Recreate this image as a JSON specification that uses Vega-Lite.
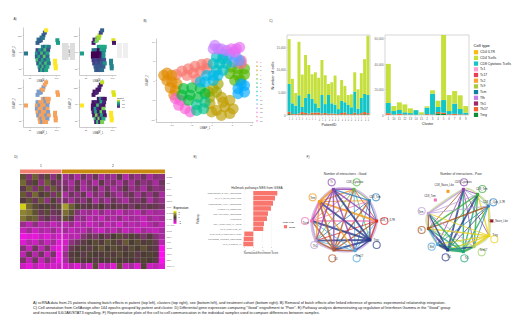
{"$schema":"https://vega.github.io/schema/vega-lite/v6.json","width":520,"height":325,"padding":0,"autosize":{"type":"none"},"background":"white",
"config":{"view":{"stroke":null},"font":"Liberation Sans","axis":{"grid":false,"labelFontSize":2.4,"titleFontSize":2.6,"tickSize":1,"tickWidth":0.4,"domainWidth":0.5,"domainColor":"#999999","tickColor":"#999999","labelColor":"#666666","titleColor":"#444444","titleFontWeight":"normal","labelPadding":0.8,"titlePadding":1}},
"datasets":{
"umapA":[{"x":44,"y":97,"a":0.3,"b":0.05,"s":1,"d":0.05},{"x":50,"y":103,"a":0.25,"b":0.7,"s":1,"d":0.1},{"x":56,"y":113,"a":0.35,"b":0.85,"s":0,"d":0.05},{"x":62,"y":120,"a":0.25,"b":0.9,"s":1,"d":0.1},{"x":66,"y":128,"a":0.3,"b":0.2,"s":0,"d":0.05},{"x":70,"y":135,"a":1,"b":0.3,"s":0,"d":0.9},{"x":47,"y":107,"a":0.35,"b":0.1,"s":1,"d":0.05},{"x":54,"y":105,"a":0.3,"b":0.8,"s":1,"d":0.1},{"x":60,"y":112,"a":0.4,"b":0.85,"s":0,"d":0.05},
{"x":60,"y":85,"a":0.5,"b":0.5,"s":0,"d":0.05},{"x":66,"y":85,"a":0.3,"b":0.6,"s":1,"d":0.5},{"x":72,"y":85,"a":0.6,"b":0.6,"s":0,"d":0.1},{"x":78,"y":85,"a":0.4,"b":0.6,"s":0,"d":0.05},
{"x":44,"y":75,"a":0.2,"b":0.4,"s":1,"d":0.05},{"x":52,"y":75,"a":0.55,"b":0.35,"s":0,"d":0.1},{"x":60,"y":75,"a":0.35,"b":0.02,"s":0,"d":0.05},{"x":68,"y":75,"a":0.7,"b":0.6,"s":1,"d":0.6},{"x":76,"y":75,"a":0.25,"b":0.55,"s":0,"d":0.1},
{"x":42,"y":65,"a":0.55,"b":0.0,"s":0,"d":0.05},{"x":50,"y":65,"a":0.25,"b":0.0,"s":1,"d":0.05},{"x":58,"y":65,"a":0.7,"b":0.0,"s":0,"d":0.7},{"x":66,"y":65,"a":0.3,"b":0.02,"s":0,"d":0.1},{"x":74,"y":65,"a":0.6,"b":0.5,"s":1,"d":0.05},
{"x":42,"y":55,"a":0.3,"b":0.0,"s":1,"d":0.05},{"x":50,"y":55,"a":0.6,"b":0.0,"s":0,"d":0.5},{"x":58,"y":55,"a":0.25,"b":0.0,"s":0,"d":0.1},{"x":66,"y":55,"a":0.75,"b":0.05,"s":1,"d":0.05},{"x":74,"y":55,"a":0.35,"b":0.5,"s":0,"d":0.8},
{"x":44,"y":45,"a":0.7,"b":0.15,"s":0,"d":0.1},{"x":52,"y":45,"a":0.25,"b":0.2,"s":1,"d":0.6},{"x":60,"y":45,"a":0.6,"b":0.15,"s":0,"d":0.05},{"x":68,"y":45,"a":0.3,"b":0.2,"s":0,"d":0.75},{"x":76,"y":45,"a":0.55,"b":0.25,"s":1,"d":0.1},
{"x":46,"y":35,"a":0.3,"b":0.2,"s":1,"d":0.05},{"x":54,"y":35,"a":0.65,"b":0.25,"s":0,"d":0.8},{"x":62,"y":35,"a":0.3,"b":0.2,"s":0,"d":0.1},{"x":70,"y":35,"a":0.7,"b":0.3,"s":1,"d":0.6},{"x":78,"y":35,"a":0.4,"b":0.5,"s":0,"d":0.05},
{"x":50,"y":25,"a":0.6,"b":0.3,"s":0,"d":0.7},{"x":56,"y":25,"a":0.3,"b":0.25,"s":1,"d":0.1},{"x":62,"y":25,"a":0.7,"b":0.3,"s":0,"d":0.8},{"x":68,"y":25,"a":0.35,"b":0.25,"s":0,"d":0.1},{"x":74,"y":25,"a":0.6,"b":0.3,"s":1,"d":0.6},
{"x":52,"y":15,"a":0.3,"b":0.3,"s":0,"d":0.1},{"x":58,"y":15,"a":0.65,"b":0.25,"s":1,"d":0.7},{"x":64,"y":15,"a":0.35,"b":0.3,"s":0,"d":0.1},{"x":70,"y":15,"a":0.6,"b":0.35,"s":0,"d":0.8},
{"x":104,"y":105,"a":0.55,"b":0.95,"s":0,"d":0.95},{"x":106,"y":97,"a":0.55,"b":0.05,"s":0,"d":0.95},
{"x":97,"y":43,"a":1,"b":0.45,"s":0,"d":1},{"x":97,"y":35,"a":1,"b":0.45,"s":0,"d":1},{"x":99,"y":27,"a":1,"b":0.45,"s":0,"d":1},{"x":99,"y":20,"a":1,"b":0.45,"s":0,"d":1},
{"x":9,"y":65,"a":0.4,"b":0.55,"s":0,"d":1}],
"umapB":[{"c":"1","x":-8.7,"y":1.5},{"c":"1","x":-7.3,"y":2.4},{"c":"1","x":-5.7,"y":3},{"c":"1","x":-4.1,"y":3.6},{"c":"1","x":-2.4,"y":4.1},{"c":"1","x":-1.1,"y":4.3},{"c":"1","x":-6.1,"y":1.3},{"c":"1","x":-4.5,"y":1.9},{"c":"1","x":-2.8,"y":2.4},{"c":"1","x":-1.2,"y":3},{"c":"1","x":-3.7,"y":0.2},
{"c":"2","x":-11.8,"y":1.3},{"c":"2","x":-11,"y":1.9},{"c":"2","x":-9.8,"y":1.3},{"c":"2","x":-11,"y":0},{"c":"2","x":-9.8,"y":-0.4},{"c":"2","x":-10.2,"y":-1.9},{"c":"2","x":-8.9,"y":-2.6},{"c":"2","x":-8.5,"y":-0.9},{"c":"2","x":-9.3,"y":-3.8},
{"c":"15","x":-8.9,"y":-4.7},{"c":"15","x":-7.7,"y":-5.1},{"c":"15","x":-8.1,"y":-6.4},{"c":"15","x":-6.5,"y":-7.3},{"c":"15","x":-5.3,"y":-8.1},
{"c":"3","x":-0.4,"y":-6},{"c":"3","x":2.4,"y":-4.3},{"c":"3","x":4.5,"y":-5.1},{"c":"3","x":1.2,"y":-7.7},{"c":"3","x":3.3,"y":-6.8},{"c":"3","x":5.3,"y":-7.3},{"c":"3","x":0,"y":-8.1},{"c":"3","x":2.4,"y":-9},{"c":"3","x":4.5,"y":-8.5},{"c":"3","x":2.8,"y":-5.6},
{"c":"4","x":-0.8,"y":-3},{"c":"4","x":0.4,"y":-2.1},{"c":"4","x":1.6,"y":-0.9},{"c":"4","x":1.2,"y":-3},{"c":"4","x":-0.4,"y":-4.3},
{"c":"5","x":4.9,"y":3.4},{"c":"5","x":6.5,"y":3},{"c":"5","x":8.1,"y":3},{"c":"5","x":4.5,"y":1.7},{"c":"5","x":6.5,"y":1.3},{"c":"5","x":8.1,"y":1.5},{"c":"5","x":5.7,"y":0},{"c":"5","x":7.1,"y":0},
{"c":"6","x":-6.9,"y":-2.1},{"c":"6","x":-4.9,"y":-1.9},{"c":"6","x":-2.8,"y":-2.1},{"c":"6","x":-7.3,"y":-3.8},{"c":"6","x":-5.3,"y":-3.8},{"c":"6","x":-3.3,"y":-4.3},{"c":"6","x":-1.6,"y":-3.4},{"c":"6","x":-5.7,"y":-5.1},
{"c":"7","x":-3.7,"y":-6.2},{"c":"7","x":-1.6,"y":-5.6},{"c":"7","x":-3.7,"y":-7.7},{"c":"7","x":-2,"y":-7.3},
{"c":"14","x":7.3,"y":4.3},{"c":"14","x":7.3,"y":5.1},
{"c":"11","x":2.8,"y":6.8},{"c":"11","x":4.5,"y":6.8},{"c":"11","x":6.1,"y":6},{"c":"11","x":3.7,"y":5.6},{"c":"11","x":5.3,"y":4.7},{"c":"11","x":6.9,"y":5.1},
{"c":"8","x":1.2,"y":6},{"c":"8","x":2.7,"y":5.6},{"c":"8","x":0.4,"y":4.3},{"c":"8","x":2,"y":4.3},{"c":"8","x":3.7,"y":4.3},{"c":"8","x":1.2,"y":2.6},{"c":"8","x":2.8,"y":2.6},
{"c":"9","x":-2.8,"y":-0.4},{"c":"9","x":-1.2,"y":1.3},{"c":"9","x":0.4,"y":1.3},{"c":"9","x":-1.6,"y":-0.4},{"c":"9","x":0.4,"y":0},{"c":"9","x":1.6,"y":1.3},
{"c":"10","x":6.5,"y":-2.1},{"c":"10","x":8.1,"y":-1.3},{"c":"10","x":6.5,"y":-3.4},{"c":"10","x":8.1,"y":-3},{"c":"10","x":7.3,"y":-0.9},
{"c":"12","x":0.8,"y":9},{"c":"12","x":1.6,"y":8.1},{"c":"12","x":0.4,"y":8.1},{"c":"12","x":2.4,"y":8.1},{"c":"12","x":3.7,"y":7.7},
{"c":"13","x":4.9,"y":8.1},{"c":"13","x":6.1,"y":8.1},{"c":"13","x":6.9,"y":8.5},{"c":"13","x":5.7,"y":7.3}],
"barsP":[{"p":"P1","k":"Treg","n":200},{"p":"P1","k":"Th17","n":500},{"p":"P1","k":"CD8 Cytotoxic Tcells","n":6140},{"p":"P1","k":"CD4 Tcells","n":9860},
{"p":"P2","k":"Treg","n":80},{"p":"P2","k":"Th17","n":150},{"p":"P2","k":"CD8 Cytotoxic Tcells","n":2340},{"p":"P2","k":"CD4 Tcells","n":5380},
{"p":"P3","k":"Treg","n":60},{"p":"P3","k":"Th17","n":150},{"p":"P3","k":"CD8 Cytotoxic Tcells","n":1850},{"p":"P3","k":"CD4 Tcells","n":2790},
{"p":"P4","k":"Treg","n":100},{"p":"P4","k":"Th17","n":250},{"p":"P4","k":"CD8 Cytotoxic Tcells","n":3990},{"p":"P4","k":"CD4 Tcells","n":11760},
{"p":"P5","k":"Treg","n":150},{"p":"P5","k":"Th17","n":500},{"p":"P5","k":"CD8 Cytotoxic Tcells","n":1110},{"p":"P5","k":"CD4 Tcells","n":7140},
{"p":"P6","k":"Treg","n":120},{"p":"P6","k":"Th17","n":350},{"p":"P6","k":"CD8 Cytotoxic Tcells","n":3280},{"p":"P6","k":"CD4 Tcells","n":9450},
{"p":"P7","k":"Treg","n":100},{"p":"P7","k":"Th17","n":200},{"p":"P7","k":"CD8 Cytotoxic Tcells","n":4330},{"p":"P7","k":"CD4 Tcells","n":6370},
{"p":"P8","k":"Treg","n":120},{"p":"P8","k":"Th17","n":400},{"p":"P8","k":"CD8 Cytotoxic Tcells","n":3010},{"p":"P8","k":"CD4 Tcells","n":5440},
{"p":"P9","k":"Treg","n":100},{"p":"P9","k":"Th17","n":400},{"p":"P9","k":"CD8 Cytotoxic Tcells","n":2070},{"p":"P9","k":"CD4 Tcells","n":6830},
{"p":"P10","k":"Treg","n":100},{"p":"P10","k":"Th17","n":450},{"p":"P10","k":"CD8 Cytotoxic Tcells","n":1050},{"p":"P10","k":"CD4 Tcells","n":6600},
{"p":"P11","k":"Treg","n":100},{"p":"P11","k":"Th17","n":250},{"p":"P11","k":"CD8 Cytotoxic Tcells","n":4050},{"p":"P11","k":"CD4 Tcells","n":7700},
{"p":"P12","k":"Treg","n":100},{"p":"P12","k":"Th17","n":350},{"p":"P12","k":"CD8 Cytotoxic Tcells","n":1950},{"p":"P12","k":"CD4 Tcells","n":6350},
{"p":"P13","k":"Treg","n":80},{"p":"P13","k":"Th17","n":200},{"p":"P13","k":"CD8 Cytotoxic Tcells","n":4120},{"p":"P13","k":"CD4 Tcells","n":2440},
{"p":"P14","k":"Treg","n":80},{"p":"P14","k":"Th17","n":250},{"p":"P14","k":"CD8 Cytotoxic Tcells","n":2240},{"p":"P14","k":"CD4 Tcells","n":4630},
{"p":"P15","k":"Treg","n":80},{"p":"P15","k":"Th17","n":200},{"p":"P15","k":"CD8 Cytotoxic Tcells","n":2000},{"p":"P15","k":"CD4 Tcells","n":6400},
{"p":"P16","k":"Treg","n":60},{"p":"P16","k":"Th17","n":150},{"p":"P16","k":"CD8 Cytotoxic Tcells","n":1090},{"p":"P16","k":"CD4 Tcells","n":3040},
{"p":"P17","k":"Treg","n":90},{"p":"P17","k":"Th17","n":350},{"p":"P17","k":"CD8 Cytotoxic Tcells","n":2660},{"p":"P17","k":"CD4 Tcells","n":4600},
{"p":"P18","k":"Treg","n":80},{"p":"P18","k":"Th17","n":500},{"p":"P18","k":"CD8 Cytotoxic Tcells","n":2220},{"p":"P18","k":"CD4 Tcells","n":3600},
{"p":"P19","k":"Treg","n":60},{"p":"P19","k":"Th17","n":150},{"p":"P19","k":"CD8 Cytotoxic Tcells","n":1990},{"p":"P19","k":"CD4 Tcells","n":2200},
{"p":"P20","k":"Treg","n":60},{"p":"P20","k":"Th17","n":150},{"p":"P20","k":"CD8 Cytotoxic Tcells","n":1490},{"p":"P20","k":"CD4 Tcells","n":2860},
{"p":"P21","k":"Treg","n":120},{"p":"P21","k":"Th17","n":400},{"p":"P21","k":"CD8 Cytotoxic Tcells","n":4630},{"p":"P21","k":"CD4 Tcells","n":4250},
{"p":"P22","k":"Treg","n":60},{"p":"P22","k":"Th17","n":150},{"p":"P22","k":"CD8 Cytotoxic Tcells","n":1190},{"p":"P22","k":"CD4 Tcells","n":4260},
{"p":"P23","k":"Treg","n":100},{"p":"P23","k":"Th17","n":300},{"p":"P23","k":"CD8 Cytotoxic Tcells","n":3350},{"p":"P23","k":"CD4 Tcells","n":5450},
{"p":"P24","k":"Treg","n":150},{"p":"P24","k":"Th17","n":500},{"p":"P24","k":"CD8 Cytotoxic Tcells","n":3980},{"p":"P24","k":"CD4 Tcells","n":7650},
{"p":"P25","k":"Treg","n":120},{"p":"P25","k":"Th17","n":300},{"p":"P25","k":"CD8 Cytotoxic Tcells","n":3980},{"p":"P25","k":"CD4 Tcells","n":13030}],
"barsC":[{"p":"1","k":"Treg","n":100},{"p":"1","k":"Th17","n":1300},{"p":"1","k":"CD8 Cytotoxic Tcells","n":8000},{"p":"1","k":"CD4 Tcells","n":30600},
{"p":"10","k":"Treg","n":100},{"p":"10","k":"Th17","n":300},{"p":"10","k":"CD8 Cytotoxic Tcells","n":2700},{"p":"10","k":"CD4 Tcells","n":3900},
{"p":"11","k":"Treg","n":100},{"p":"11","k":"Th17","n":800},{"p":"11","k":"CD8 Cytotoxic Tcells","n":3000},{"p":"11","k":"CD4 Tcells","n":6000},
{"p":"12","k":"Treg","n":100},{"p":"12","k":"Th17","n":400},{"p":"12","k":"CD8 Cytotoxic Tcells","n":1600},{"p":"12","k":"CD4 Tcells","n":6200},
{"p":"13","k":"Treg","n":50},{"p":"13","k":"Th17","n":300},{"p":"13","k":"CD8 Cytotoxic Tcells","n":1150},{"p":"13","k":"CD4 Tcells","n":3700},
{"p":"14","k":"Treg","n":50},{"p":"14","k":"Th17","n":100},{"p":"14","k":"CD8 Cytotoxic Tcells","n":3650},{"p":"14","k":"CD4 Tcells","n":100},
{"p":"15","k":"Th17","n":100},{"p":"15","k":"CD8 Cytotoxic Tcells","n":300},{"p":"15","k":"CD4 Tcells","n":1700},
{"p":"2","k":"Treg","n":50},{"p":"2","k":"Th17","n":600},{"p":"2","k":"CD8 Cytotoxic Tcells","n":5050},{"p":"2","k":"CD4 Tcells","n":1100},
{"p":"3","k":"Treg","n":100},{"p":"3","k":"Th17","n":300},{"p":"3","k":"CD8 Cytotoxic Tcells","n":16300},{"p":"3","k":"CD4 Tcells","n":2600},
{"p":"4","k":"Treg","n":1300},{"p":"4","k":"Th17","n":1000},{"p":"4","k":"CD8 Cytotoxic Tcells","n":4000},{"p":"4","k":"CD4 Tcells","n":4900},
{"p":"5","k":"Treg","n":800},{"p":"5","k":"Th17","n":1000},{"p":"5","k":"CD8 Cytotoxic Tcells","n":9900},{"p":"5","k":"CD4 Tcells","n":50900},
{"p":"6","k":"Treg","n":100},{"p":"6","k":"Th17","n":500},{"p":"6","k":"CD8 Cytotoxic Tcells","n":2500},{"p":"6","k":"CD4 Tcells","n":12500},
{"p":"7","k":"Treg","n":100},{"p":"7","k":"Th17","n":800},{"p":"7","k":"CD8 Cytotoxic Tcells","n":8000},{"p":"7","k":"CD4 Tcells","n":9900},
{"p":"8","k":"Treg","n":100},{"p":"8","k":"Th17","n":400},{"p":"8","k":"CD8 Cytotoxic Tcells","n":4200},{"p":"8","k":"CD4 Tcells","n":10700},
{"p":"9","k":"Treg","n":100},{"p":"9","k":"Th17","n":300},{"p":"9","k":"CD8 Cytotoxic Tcells","n":1400},{"p":"9","k":"CD4 Tcells","n":5200}],
"nodesF":[{"id":"L1","x":192,"y":118,"t":"CD8_Cytotoxic","lx":195,"ly":98,"px":200,"py":97},{"id":"L2","x":238,"y":152,"t":"CD8_Tem","lx":255,"ly":142,"px":258,"py":142},{"id":"L3","x":260,"y":213,"t":"CD8_T_IL7R","lx":292,"ly":212,"px":283,"py":213},{"id":"L4","x":240,"y":270,"t":"Treg","lx":258,"ly":272,"px":260,"py":285},{"id":"L5","x":195,"y":302,"t":"Tem17","lx":208,"ly":320,"px":200,"py":325},{"id":"L6","x":132,"y":300,"t":"Tc1","lx":137,"ly":327,"px":127,"py":325},{"id":"L7","x":78,"y":272,"t":"Th1","lx":75,"ly":288,"px":73,"py":285},{"id":"L8","x":65,"y":213,"t":"Tscm","lx":47,"ly":220,"px":45,"py":213},{"id":"L9","x":88,"y":155,"t":"Tem","lx":68,"ly":146,"px":68,"py":142},{"id":"L10","x":130,"y":118,"t":"Tc","lx":125,"ly":98,"px":125,"py":97},
{"id":"R1","x":520,"y":118,"t":"CD8_Cytotoxic","lx":520,"ly":98,"px":522,"py":97},{"id":"R2","x":563,"y":133,"t":"CD8_Tem","lx":575,"ly":117,"px":577,"py":117},{"id":"R3","x":595,"y":168,"t":"CD8_T_Cyto_IL7R","lx":612,"ly":158,"px":610,"py":157},{"id":"R4","x":597,"y":257,"t":"Treg","lx":615,"ly":257,"px":613,"py":268},{"id":"R5","x":552,"y":290,"t":"Tem17","lx":580,"ly":300,"px":575,"py":307},{"id":"R6","x":520,"y":305,"t":"Tc1","lx":530,"ly":325,"px":523,"py":325},{"id":"R7","x":473,"y":300,"t":"Th1","lx":477,"ly":322,"px":467,"py":322},{"id":"R8","x":443,"y":283,"t":"Bfd","lx":425,"ly":293,"px":425,"py":290},{"id":"R9","x":415,"y":236,"t":"Th","lx":392,"ly":242,"px":395,"py":240},{"id":"R10","x":415,"y":190,"t":"Tem","lx":393,"ly":188,"px":395,"py":183},
{"id":"I1","x":436,"y":150,"t":"CD8_Tem","lx":420,"ly":140},{"id":"I2","x":474,"y":124,"t":"CD8_Naive_Like","lx":463,"ly":106},{"id":"I3","x":605,"y":213,"t":"CD4_Naive_Like","lx":625,"ly":213}],
"edgesF":[{"s":"L1","t":"L2","w":2},{"s":"L3","t":"L1","w":2},{"s":"L1","t":"L4","w":2},{"s":"L5","t":"L1","w":2},{"s":"L6","t":"L1","w":3},{"s":"L1","t":"L7","w":2},{"s":"L8","t":"L1","w":2},{"s":"L9","t":"L1","w":3},{"s":"L10","t":"L1","w":3},
{"s":"L2","t":"L3","w":2},{"s":"L4","t":"L2","w":3},{"s":"L2","t":"L5","w":2},{"s":"L6","t":"L2","w":3},{"s":"L2","t":"L7","w":2},{"s":"L8","t":"L2","w":2},{"s":"L9","t":"L2","w":2},{"s":"L2","t":"L10","w":3},
{"s":"L3","t":"L4","w":3},{"s":"L5","t":"L3","w":2},{"s":"L6","t":"L3","w":3},{"s":"L3","t":"L7","w":2},{"s":"L8","t":"L3","w":3},{"s":"L9","t":"L3","w":4},{"s":"L10","t":"L3","w":3},
{"s":"L4","t":"L5","w":3},{"s":"L4","t":"L6","w":4},{"s":"L4","t":"L7","w":4},{"s":"L4","t":"L8","w":4},{"s":"L4","t":"L9","w":4},{"s":"L4","t":"L10","w":4},
{"s":"L6","t":"L5","w":3},{"s":"L5","t":"L7","w":2},{"s":"L5","t":"L8","w":2},{"s":"L9","t":"L5","w":3},{"s":"L10","t":"L5","w":3},
{"s":"L6","t":"L7","w":3},{"s":"L6","t":"L8","w":3},{"s":"L6","t":"L9","w":4},{"s":"L10","t":"L6","w":3},
{"s":"L7","t":"L8","w":3},{"s":"L9","t":"L7","w":3},{"s":"L10","t":"L7","w":3},
{"s":"L8","t":"L9","w":4},{"s":"L10","t":"L8","w":3},{"s":"L9","t":"L10","w":4},
{"s":"R1","t":"R2","w":2},{"s":"R3","t":"R1","w":1},{"s":"R1","t":"R4","w":2},{"s":"R1","t":"R5","w":2},{"s":"R6","t":"R1","w":3},{"s":"R7","t":"R1","w":4},{"s":"R1","t":"R8","w":2},{"s":"R9","t":"R1","w":2},{"s":"R10","t":"R1","w":3},
{"s":"R2","t":"R3","w":1},{"s":"R4","t":"R2","w":3},{"s":"R2","t":"R5","w":3},{"s":"R6","t":"R2","w":3},{"s":"R7","t":"R2","w":4},{"s":"R2","t":"R8","w":2},{"s":"R2","t":"R9","w":3},{"s":"R10","t":"R2","w":2},
{"s":"R4","t":"R3","w":2},{"s":"R3","t":"R5","w":2},{"s":"R6","t":"R3","w":3},{"s":"R7","t":"R3","w":2},{"s":"R3","t":"R8","w":2},{"s":"R9","t":"R3","w":3},{"s":"R10","t":"R3","w":2},
{"s":"R4","t":"R5","w":3},{"s":"R4","t":"R6","w":3},{"s":"R4","t":"R7","w":3},{"s":"R4","t":"R8","w":3},{"s":"R4","t":"R9","w":3},{"s":"R4","t":"R10","w":2},
{"s":"R6","t":"R5","w":4},{"s":"R7","t":"R5","w":3},{"s":"R5","t":"R8","w":2},{"s":"R5","t":"R9","w":2},{"s":"R10","t":"R5","w":2},
{"s":"R6","t":"R7","w":4},{"s":"R6","t":"R8","w":4},{"s":"R6","t":"R9","w":3},{"s":"R6","t":"R10","w":3},
{"s":"R7","t":"R8","w":4},{"s":"R7","t":"R9","w":4},{"s":"R7","t":"R10","w":3},
{"s":"R8","t":"R9","w":3},{"s":"R9","t":"R10","w":3},{"s":"R10","t":"R8","w":2}]
},
"resolve":{"scale":{"x":"independent","y":"independent","color":"independent","size":"independent"},"axis":{"x":"independent","y":"independent"},"legend":{"color":"independent","size":"independent"}},
"layer":[
{"data":{"name":"umapA"},"mark":{"type":"square","size":16,"opacity":1},"encoding":{"x":{"field":"x","type":"quantitative","scale":{"domain":[0,112],"range":[23,60]},"axis":{"orient":"bottom","offset":-250,"values":[20,60,100],"title":"UMAP_1"}},"y":{"field":"y","type":"quantitative","scale":{"domain":[0,145],"range":[75,27]},"axis":{"orient":"left","offset":-23,"values":[20,70,120],"title":"UMAP_2"}},"color":{"field":"a","type":"quantitative","scale":{"scheme":"viridis","domain":[0,1]},"legend":null}}},
{"data":{"name":"umapA"},"mark":{"type":"square","size":16,"opacity":1},"encoding":{"x":{"field":"x","type":"quantitative","scale":{"domain":[0,112],"range":[79,116]},"axis":{"orient":"bottom","offset":-250,"values":[20,60,100],"title":"UMAP_1"}},"y":{"field":"y","type":"quantitative","scale":{"domain":[0,145],"range":[75,27]},"axis":{"orient":"left","offset":-79,"values":[20,70,120],"title":"UMAP_2"}},"color":{"field":"b","type":"quantitative","scale":{"scheme":"viridis","domain":[0,1]},"legend":null}}},
{"data":{"name":"umapA"},"mark":{"type":"square","size":16,"opacity":1},"encoding":{"x":{"field":"x","type":"quantitative","scale":{"domain":[0,112],"range":[23,60]},"axis":{"orient":"bottom","offset":-198,"values":[20,60,100],"title":"UMAP_1"}},"y":{"field":"y","type":"quantitative","scale":{"domain":[0,145],"range":[127,79]},"axis":{"orient":"left","offset":-23,"values":[20,70,120],"title":"UMAP_2"}},"color":{"field":"s","type":"quantitative","scale":{"domain":[0,1],"range":["#F5A25D","#7C9CC9"]},"legend":null}}},
{"data":{"name":"umapA"},"mark":{"type":"square","size":16,"opacity":1},"encoding":{"x":{"field":"x","type":"quantitative","scale":{"domain":[0,112],"range":[79,116]},"axis":{"orient":"bottom","offset":-198,"values":[20,60,100],"title":"UMAP_1"}},"y":{"field":"y","type":"quantitative","scale":{"domain":[0,145],"range":[127,79]},"axis":{"orient":"left","offset":-79,"values":[20,70,120],"title":"UMAP_2"}},"color":{"field":"d","type":"quantitative","scale":{"scheme":"viridis","domain":[0,1]},"legend":{"orient":"none","legendX":117,"legendY":97,"title":"Cohort","titleFontSize":2.2,"titleFontWeight":"normal","titlePadding":0.5,"labelFontSize":1.8,"gradientLength":8,"gradientThickness":3,"tickCount":2}}}},
{"data":{"values":[{"g":"a","x":62,"x2":68.5,"y":43,"y2":60},{"g":"a","x":70,"x2":75,"y":43,"y2":60},{"g":"b","x":117,"x2":122,"y":43,"y2":58},{"g":"b","x":123,"x2":128,"y":43,"y2":58}]},"mark":{"type":"rect"},"encoding":{"x":{"field":"x","type":"quantitative","scale":{"domain":[0,520],"range":[0,520]},"axis":null},"x2":{"field":"x2"},"y":{"field":"y","type":"quantitative","scale":{"domain":[0,325],"range":[0,325]},"axis":null},"y2":{"field":"y2"},"color":{"field":"g","type":"nominal","scale":{"domain":["a","b"],"range":["#DDDDDD","#EFEFEF"]},"legend":null}}},
{"data":{"name":"umapB"},"mark":{"type":"circle","size":125,"opacity":0.65},"encoding":{"x":{"field":"x","type":"quantitative","scale":{"domain":[-13.7,10.2],"range":[156,253]},"axis":{"orient":"bottom","offset":-203,"values":[-10,-5,0,5,10],"title":"UMAP_1"}},"y":{"field":"y","type":"quantitative","scale":{"domain":[-10.7,10.9],"range":[122,38]},"axis":{"orient":"left","offset":-156,"values":[-10,-5,0,5,10],"title":"UMAP_2"}},"color":{"field":"c","type":"nominal","scale":{"domain":["1","2","3","4","5","6","7","8","9","10","11","12","13","14","15"],"range":["#F8766D","#E08B00","#BE9C00","#A3A500","#53B400","#00BA38","#00C08B","#00BFC4","#00B8E7","#00A9FF","#619CFF","#C77CFF","#E76BF3","#FF6A98","#FB61D7"]},"legend":{"orient":"none","legendX":255,"legendY":60,"title":null,"symbolType":"circle","symbolSize":3,"labelFontSize":2.3,"rowPadding":0.2,"labelOffset":1,"labelColor":"#666666"}}}},
{"data":{"values":[{"x":287,"x2":370,"y":35,"y2":115},{"x":385,"x2":469,"y":35,"y2":115}]},"mark":{"type":"rect","fill":null,"fillOpacity":0,"stroke":"#D5D5D5","strokeWidth":1},"encoding":{"x":{"field":"x","type":"quantitative","scale":{"domain":[0,520],"range":[0,520]},"axis":null},"x2":{"field":"x2"},"y":{"field":"y","type":"quantitative","scale":{"domain":[0,325],"range":[0,325]},"axis":null},"y2":{"field":"y2"}}},
{"data":{"name":"barsP"},"mark":{"type":"bar"},"encoding":{"x":{"field":"p","type":"nominal","scale":{"domain":["P1","P2","P3","P4","P5","P6","P7","P8","P9","P10","P11","P12","P13","P14","P15","P16","P17","P18","P19","P20","P21","P22","P23","P24","P25"],"range":[287.5,369.5],"paddingInner":0.1,"paddingOuter":0.05},"axis":{"orient":"bottom","offset":-210,"title":"PatientID","labelAngle":-90,"labelFontSize":2.2,"titleFontSize":3.6,"titleColor":"#222222","titlePadding":1.5,"domain":false}},"y":{"field":"n","type":"quantitative","stack":"zero","scale":{"domain":[0,17600],"range":[115,35],"nice":false},"axis":{"orient":"left","offset":-287,"values":[0,5000,10000,15000],"format":",.0f","title":"Number of cells","labelFontSize":3,"titleFontSize":4,"titleColor":"#222222","titlePadding":1.5,"domain":false}},"color":{"field":"k","type":"nominal","scale":{"domain":["CD4 IL7R","CD4 Tcells","CD8 Cytotoxic Tcells","Tc1","Tc17","Tc2","Tc9","Tcm","Tfh","Th1","Th17","Treg"],"range":["#FDB913","#C5E03C","#12C5C6","#FF9ECF","#E83E5C","#FFA030","#A9C83C","#0E7FA0","#C97BEA","#A02868","#F4602A","#0E8E3A"]},"legend":{"orient":"none","legendX":473.5,"legendY":44,"title":"Cell type","titleFontSize":4.2,"titleFontWeight":"normal","titlePadding":1.5,"titleColor":"#111111","symbolType":"square","symbolSize":18,"symbolStrokeWidth":0,"labelFontSize":3.4,"labelOffset":1.5,"labelColor":"#222222","rowPadding":0.7,"labelLimit":60}}}},
{"data":{"name":"barsC"},"mark":{"type":"bar"},"encoding":{"x":{"field":"p","type":"nominal","scale":{"domain":["1","10","11","12","13","14","15","2","3","4","5","6","7","8","9"],"range":[385.5,468.5],"paddingInner":0.1,"paddingOuter":0.05},"axis":{"orient":"bottom","offset":-210,"title":"Cluster","labelAngle":0,"labelFontSize":3,"titleFontSize":3.6,"titleColor":"#222222","titlePadding":1.5,"domain":false}},"y":{"field":"n","type":"quantitative","stack":"zero","scale":{"domain":[0,62600],"range":[115,35],"nice":false},"axis":{"orient":"left","offset":-385,"values":[0,20000,40000,60000],"format":",.0f","title":null,"labelFontSize":3,"domain":false}},"color":{"field":"k","type":"nominal","scale":{"domain":["CD4 IL7R","CD4 Tcells","CD8 Cytotoxic Tcells","Tc1","Tc17","Tc2","Tc9","Tcm","Tfh","Th1","Th17","Treg"],"range":["#FDB913","#C5E03C","#12C5C6","#FF9ECF","#E83E5C","#FFA030","#A9C83C","#0E7FA0","#C97BEA","#A02868","#F4602A","#0E8E3A"]},"legend":null}}},
{"data":{"values":[
{"r":1,"c":1,"v":0.3},{"r":1,"c":2,"v":-0.6},{"r":1,"c":3,"v":0.5},{"r":1,"c":4,"v":-0.4},{"r":1,"c":5,"v":0.2},{"r":1,"c":6,"v":-0.7},{"r":1,"c":7,"v":0.1},{"r":1,"c":8,"v":-0.9},{"r":1,"c":9,"v":-0.5},{"r":1,"c":10,"v":-1},{"r":1,"c":11,"v":-0.4},{"r":1,"c":12,"v":-0.8},{"r":1,"c":13,"v":-0.3},{"r":1,"c":14,"v":-1},{"r":1,"c":15,"v":-0.6},{"r":1,"c":16,"v":-0.9},{"r":1,"c":17,"v":-0.2},{"r":1,"c":18,"v":-1.1},{"r":1,"c":19,"v":-0.5},{"r":1,"c":20,"v":-0.8},{"r":1,"c":21,"v":-0.4},{"r":1,"c":22,"v":-1},{"r":1,"c":23,"v":-0.6},{"r":1,"c":24,"v":-0.7},
{"r":2,"c":1,"v":0.6},{"r":2,"c":2,"v":-0.3},{"r":2,"c":3,"v":0.1},{"r":2,"c":4,"v":-0.7},{"r":2,"c":5,"v":0.5},{"r":2,"c":6,"v":-0.2},{"r":2,"c":7,"v":-0.5},{"r":2,"c":8,"v":-0.6},{"r":2,"c":9,"v":-1},{"r":2,"c":10,"v":-0.3},{"r":2,"c":11,"v":-0.9},{"r":2,"c":12,"v":-0.5},{"r":2,"c":13,"v":-1.1},{"r":2,"c":14,"v":-0.2},{"r":2,"c":15,"v":-0.8},{"r":2,"c":16,"v":-0.5},{"r":2,"c":17,"v":-1},{"r":2,"c":18,"v":-0.4},{"r":2,"c":19,"v":-0.9},{"r":2,"c":20,"v":-0.3},{"r":2,"c":21,"v":-0.7},{"r":2,"c":22,"v":-0.5},{"r":2,"c":23,"v":-1},{"r":2,"c":24,"v":-0.4},
{"r":3,"c":1,"v":-0.2},{"r":3,"c":2,"v":0.5},{"r":3,"c":3,"v":-0.5},{"r":3,"c":4,"v":0.3},{"r":3,"c":5,"v":-0.6},{"r":3,"c":6,"v":0.4},{"r":3,"c":7,"v":-0.3},{"r":3,"c":8,"v":-0.4},{"r":3,"c":9,"v":-0.8},{"r":3,"c":10,"v":-0.2},{"r":3,"c":11,"v":-1},{"r":3,"c":12,"v":-0.6},{"r":3,"c":13,"v":-0.3},{"r":3,"c":14,"v":-0.9},{"r":3,"c":15,"v":-0.4},{"r":3,"c":16,"v":-1},{"r":3,"c":17,"v":-0.6},{"r":3,"c":18,"v":-0.2},{"r":3,"c":19,"v":-0.8},{"r":3,"c":20,"v":-0.5},{"r":3,"c":21,"v":-1},{"r":3,"c":22,"v":-0.3},{"r":3,"c":23,"v":-0.7},{"r":3,"c":24,"v":-0.6},
{"r":4,"c":1,"v":0.4},{"r":4,"c":2,"v":-0.4},{"r":4,"c":3,"v":0.6},{"r":4,"c":4,"v":-0.1},{"r":4,"c":5,"v":0.2},{"r":4,"c":6,"v":-0.5},{"r":4,"c":7,"v":0.3},{"r":4,"c":8,"v":-1},{"r":4,"c":9,"v":-0.4},{"r":4,"c":10,"v":-0.7},{"r":4,"c":11,"v":-0.3},{"r":4,"c":12,"v":-1.1},{"r":4,"c":13,"v":-0.5},{"r":4,"c":14,"v":-0.8},{"r":4,"c":15,"v":-0.2},{"r":4,"c":16,"v":-0.6},{"r":4,"c":17,"v":-1},{"r":4,"c":18,"v":-0.5},{"r":4,"c":19,"v":-0.3},{"r":4,"c":20,"v":-0.9},{"r":4,"c":21,"v":-0.4},{"r":4,"c":22,"v":-0.8},{"r":4,"c":23,"v":-0.3},{"r":4,"c":24,"v":-1},
{"r":5,"c":1,"v":-0.1},{"r":5,"c":2,"v":0.3},{"r":5,"c":3,"v":-0.3},{"r":5,"c":4,"v":0.4},{"r":5,"c":5,"v":-0.7},{"r":5,"c":6,"v":0.1},{"r":5,"c":7,"v":-0.5},{"r":5,"c":8,"v":-0.5},{"r":5,"c":9,"v":-0.9},{"r":5,"c":10,"v":-0.4},{"r":5,"c":11,"v":-0.7},{"r":5,"c":12,"v":-0.2},{"r":5,"c":13,"v":-1},{"r":5,"c":14,"v":-0.5},{"r":5,"c":15,"v":-0.9},{"r":5,"c":16,"v":-0.3},{"r":5,"c":17,"v":-0.7},{"r":5,"c":18,"v":-1},{"r":5,"c":19,"v":-0.4},{"r":5,"c":20,"v":-0.6},{"r":5,"c":21,"v":-0.2},{"r":5,"c":22,"v":-1},{"r":5,"c":23,"v":-0.5},{"r":5,"c":24,"v":-0.8},
{"r":6,"c":1,"v":1.6},{"r":6,"c":2,"v":0.6},{"r":6,"c":3,"v":0.2},{"r":6,"c":4,"v":-0.1},{"r":6,"c":5,"v":0.1},{"r":6,"c":6,"v":-0.2},{"r":6,"c":7,"v":0.2},{"r":6,"c":8,"v":1.2},{"r":6,"c":9,"v":0.5},{"r":6,"c":10,"v":0.1},{"r":6,"c":11,"v":-0.2},{"r":6,"c":12,"v":-0.1},{"r":6,"c":13,"v":-0.3},{"r":6,"c":14,"v":0},{"r":6,"c":15,"v":-0.4},{"r":6,"c":16,"v":-0.1},{"r":6,"c":17,"v":-0.3},{"r":6,"c":18,"v":-0.2},{"r":6,"c":19,"v":-0.5},{"r":6,"c":20,"v":-0.1},{"r":6,"c":21,"v":-0.4},{"r":6,"c":22,"v":-0.2},{"r":6,"c":23,"v":-0.3},{"r":6,"c":24,"v":-0.5},
{"r":7,"c":1,"v":1},{"r":7,"c":2,"v":0.8},{"r":7,"c":3,"v":0.3},{"r":7,"c":4,"v":-0.3},{"r":7,"c":5,"v":0.2},{"r":7,"c":6,"v":-0.4},{"r":7,"c":7,"v":-0.2},{"r":7,"c":8,"v":0.7},{"r":7,"c":9,"v":0.3},{"r":7,"c":10,"v":-0.6},{"r":7,"c":11,"v":-1},{"r":7,"c":12,"v":-0.8},{"r":7,"c":13,"v":-1.2},{"r":7,"c":14,"v":-0.7},{"r":7,"c":15,"v":-1.1},{"r":7,"c":16,"v":-0.9},{"r":7,"c":17,"v":-1.3},{"r":7,"c":18,"v":-0.8},{"r":7,"c":19,"v":-1},{"r":7,"c":20,"v":-1.2},{"r":7,"c":21,"v":-0.7},{"r":7,"c":22,"v":-1.1},{"r":7,"c":23,"v":-0.9},{"r":7,"c":24,"v":-1},
{"r":8,"c":1,"v":0.8},{"r":8,"c":2,"v":0.4},{"r":8,"c":3,"v":0.5},{"r":8,"c":4,"v":-0.5},{"r":8,"c":5,"v":-0.2},{"r":8,"c":6,"v":-0.6},{"r":8,"c":7,"v":-0.4},{"r":8,"c":8,"v":0.3},{"r":8,"c":9,"v":-0.2},{"r":8,"c":10,"v":-0.9},{"r":8,"c":11,"v":-0.7},{"r":8,"c":12,"v":-1.2},{"r":8,"c":13,"v":-0.9},{"r":8,"c":14,"v":-1.3},{"r":8,"c":15,"v":-0.8},{"r":8,"c":16,"v":-1.1},{"r":8,"c":17,"v":-0.7},{"r":8,"c":18,"v":-1.2},{"r":8,"c":19,"v":-0.9},{"r":8,"c":20,"v":-1},{"r":8,"c":21,"v":-1.3},{"r":8,"c":22,"v":-0.8},{"r":8,"c":23,"v":-1.1},{"r":8,"c":24,"v":-0.9},
{"r":9,"c":1,"v":-0.8},{"r":9,"c":2,"v":-1.2},{"r":9,"c":3,"v":-0.7},{"r":9,"c":4,"v":-1.1},{"r":9,"c":5,"v":-0.9},{"r":9,"c":6,"v":-1.3},{"r":9,"c":7,"v":-1},{"r":9,"c":8,"v":-1.2},{"r":9,"c":9,"v":-0.8},{"r":9,"c":10,"v":-1.3},{"r":9,"c":11,"v":-1},{"r":9,"c":12,"v":-1.4},{"r":9,"c":13,"v":-1.1},{"r":9,"c":14,"v":-0.8},{"r":9,"c":15,"v":-1.3},{"r":9,"c":16,"v":-1},{"r":9,"c":17,"v":-1.5},{"r":9,"c":18,"v":-0.9},{"r":9,"c":19,"v":-1.2},{"r":9,"c":20,"v":-1},{"r":9,"c":21,"v":-1.4},{"r":9,"c":22,"v":-1.1},{"r":9,"c":23,"v":-0.8},{"r":9,"c":24,"v":-1.3},
{"r":10,"c":1,"v":-1.3},{"r":10,"c":2,"v":-0.9},{"r":10,"c":3,"v":-1.4},{"r":10,"c":4,"v":-1},{"r":10,"c":5,"v":-1.2},{"r":10,"c":6,"v":-0.8},{"r":10,"c":7,"v":-1.3},{"r":10,"c":8,"v":-0.9},{"r":10,"c":9,"v":-1.3},{"r":10,"c":10,"v":-1},{"r":10,"c":11,"v":-1.2},{"r":10,"c":12,"v":-0.7},{"r":10,"c":13,"v":-1.2},{"r":10,"c":14,"v":-1.4},{"r":10,"c":15,"v":-0.9},{"r":10,"c":16,"v":-1.2},{"r":10,"c":17,"v":-0.8},{"r":10,"c":18,"v":-1.3},{"r":10,"c":19,"v":-1},{"r":10,"c":20,"v":-1.4},{"r":10,"c":21,"v":-0.9},{"r":10,"c":22,"v":-1.2},{"r":10,"c":23,"v":-1.3},{"r":10,"c":24,"v":-1},
{"r":11,"c":1,"v":-1.8},{"r":11,"c":2,"v":-1.6},{"r":11,"c":3,"v":-1.7},{"r":11,"c":4,"v":-1.4},{"r":11,"c":5,"v":-1.6},{"r":11,"c":6,"v":-1.2},{"r":11,"c":7,"v":-1.5},{"r":11,"c":8,"v":-1.4},{"r":11,"c":9,"v":-1.1},{"r":11,"c":10,"v":-1.2},{"r":11,"c":11,"v":-0.6},{"r":11,"c":12,"v":-0.3},{"r":11,"c":13,"v":-0.5},{"r":11,"c":14,"v":-0.1},{"r":11,"c":15,"v":-0.4},{"r":11,"c":16,"v":0},{"r":11,"c":17,"v":0.2},{"r":11,"c":18,"v":-0.3},{"r":11,"c":19,"v":0.1},{"r":11,"c":20,"v":-0.2},{"r":11,"c":21,"v":-0.5},{"r":11,"c":22,"v":-0.1},{"r":11,"c":23,"v":-0.6},{"r":11,"c":24,"v":-1},
{"r":12,"c":1,"v":-1.6},{"r":12,"c":2,"v":-1.1},{"r":12,"c":3,"v":-1.4},{"r":12,"c":4,"v":-0.8},{"r":12,"c":5,"v":-1.3},{"r":12,"c":6,"v":-0.9},{"r":12,"c":7,"v":-1.6},{"r":12,"c":8,"v":-1.5},{"r":12,"c":9,"v":-0.7},{"r":12,"c":10,"v":-0.4},{"r":12,"c":11,"v":-0.2},{"r":12,"c":12,"v":0},{"r":12,"c":13,"v":0.2},{"r":12,"c":14,"v":-0.1},{"r":12,"c":15,"v":0.3},{"r":12,"c":16,"v":0.1},{"r":12,"c":17,"v":-0.2},{"r":12,"c":18,"v":0.4},{"r":12,"c":19,"v":0},{"r":12,"c":20,"v":0.2},{"r":12,"c":21,"v":-0.1},{"r":12,"c":22,"v":0.1},{"r":12,"c":23,"v":-0.3},{"r":12,"c":24,"v":-1.2},
{"r":13,"c":1,"v":-0.6},{"r":13,"c":2,"v":-1.3},{"r":13,"c":3,"v":-0.4},{"r":13,"c":4,"v":-1.2},{"r":13,"c":5,"v":-0.5},{"r":13,"c":6,"v":-1.4},{"r":13,"c":7,"v":-1.8},{"r":13,"c":8,"v":-1.2},{"r":13,"c":9,"v":-0.3},{"r":13,"c":10,"v":-0.1},{"r":13,"c":11,"v":0.1},{"r":13,"c":12,"v":-0.2},{"r":13,"c":13,"v":0.1},{"r":13,"c":14,"v":0.3},{"r":13,"c":15,"v":0},{"r":13,"c":16,"v":0.2},{"r":13,"c":17,"v":0.1},{"r":13,"c":18,"v":-0.1},{"r":13,"c":19,"v":0.2},{"r":13,"c":20,"v":0},{"r":13,"c":21,"v":0.3},{"r":13,"c":22,"v":-0.1},{"r":13,"c":23,"v":-0.2},{"r":13,"c":24,"v":-1.9},
{"r":14,"c":1,"v":-1.2},{"r":14,"c":2,"v":-0.3},{"r":14,"c":3,"v":-1.1},{"r":14,"c":4,"v":-0.4},{"r":14,"c":5,"v":-1.3},{"r":14,"c":6,"v":-0.5},{"r":14,"c":7,"v":-1.9},{"r":14,"c":8,"v":-0.8},{"r":14,"c":9,"v":-0.1},{"r":14,"c":10,"v":0},{"r":14,"c":11,"v":-0.2},{"r":14,"c":12,"v":0.1},{"r":14,"c":13,"v":0},{"r":14,"c":14,"v":-0.1},{"r":14,"c":15,"v":0.1},{"r":14,"c":16,"v":-0.1},{"r":14,"c":17,"v":0.2},{"r":14,"c":18,"v":0},{"r":14,"c":19,"v":0.1},{"r":14,"c":20,"v":-0.2},{"r":14,"c":21,"v":0},{"r":14,"c":22,"v":0.1},{"r":14,"c":23,"v":-0.1},{"r":14,"c":24,"v":-2},
{"r":15,"c":1,"v":-0.5},{"r":15,"c":2,"v":-1.2},{"r":15,"c":3,"v":-0.4},{"r":15,"c":4,"v":-1.3},{"r":15,"c":5,"v":-0.6},{"r":15,"c":6,"v":-1.1},{"r":15,"c":7,"v":-1.8},{"r":15,"c":8,"v":-1},{"r":15,"c":9,"v":-0.2},{"r":15,"c":10,"v":0.1},{"r":15,"c":11,"v":-0.1},{"r":15,"c":12,"v":0},{"r":15,"c":13,"v":-0.2},{"r":15,"c":14,"v":0},{"r":15,"c":15,"v":-0.1},{"r":15,"c":16,"v":0.1},{"r":15,"c":17,"v":0},{"r":15,"c":18,"v":-0.1},{"r":15,"c":19,"v":0},{"r":15,"c":20,"v":-0.2},{"r":15,"c":21,"v":0.1},{"r":15,"c":22,"v":0},{"r":15,"c":23,"v":-0.2},{"r":15,"c":24,"v":-2},
{"r":16,"c":1,"v":-1.4},{"r":16,"c":2,"v":-1.7},{"r":16,"c":3,"v":-1.2},{"r":16,"c":4,"v":-1.6},{"r":16,"c":5,"v":-1.3},{"r":16,"c":6,"v":-1.5},{"r":16,"c":7,"v":-1.4},{"r":16,"c":8,"v":-1.5},{"r":16,"c":9,"v":-1.2},{"r":16,"c":10,"v":-1.6},{"r":16,"c":11,"v":-0.9},{"r":16,"c":12,"v":-1.5},{"r":16,"c":13,"v":0.2},{"r":16,"c":14,"v":-1.4},{"r":16,"c":15,"v":-1.1},{"r":16,"c":16,"v":-1.6},{"r":16,"c":17,"v":0.3},{"r":16,"c":18,"v":-1.3},{"r":16,"c":19,"v":-1},{"r":16,"c":20,"v":-1.6},{"r":16,"c":21,"v":0.1},{"r":16,"c":22,"v":-1.4},{"r":16,"c":23,"v":-1.2},{"r":16,"c":24,"v":-1.6}
]},"mark":{"type":"rect"},"encoding":{"x":{"field":"c","type":"ordinal","scale":{"domain":[1,2,3,4,5,6,7,8,9,10,11,12,13,14,15,16,17,18,19,20,21,22,23,24],"range":[20,165],"paddingInner":0,"paddingOuter":0},"axis":null},"y":{"field":"r","type":"ordinal","scale":{"domain":[1,2,3,4,5,6,7,8,9,10,11,12,13,14,15,16],"range":[174,269],"paddingInner":0,"paddingOuter":0},"axis":{"orient":"right","offset":-355,"title":null,"domain":false,"ticks":false,"labelFontSize":2,"labelPadding":1,"labelExpr":"['ISG15','IFI6','MX1','CCL5','GZMK','IFIT3','CXCL13','LAG3','HLA-DRA','NKG7','GNLY','IL7R','CCR7','TCF7','SELL','RPS4Y1'][datum.value-1]"}},"color":{"field":"v","type":"quantitative","scale":{"domain":[-2,-1,0,1,2],"range":["#FF10F0","#A92BA0","#4A3C34","#8F8434","#FFFF00"],"interpolate":"rgb"},"legend":{"orient":"none","legendX":173.5,"legendY":207,"title":"Expression","titleFontSize":3,"titleFontWeight":"normal","titlePadding":0.8,"labelFontSize":2,"gradientLength":13,"gradientThickness":3,"values":[-2,-1,0,1,2]}}}},
{"data":{"values":[{"g":"a","x":20,"x2":61.5,"y":169.5,"y2":173.5},{"g":"b","x":62,"x2":165,"y":169.5,"y2":173.5}]},"mark":{"type":"rect"},"encoding":{"x":{"field":"x","type":"quantitative","scale":{"domain":[0,520],"range":[0,520]},"axis":null},"x2":{"field":"x2"},"y":{"field":"y","type":"quantitative","scale":{"domain":[0,325],"range":[0,325]},"axis":null},"y2":{"field":"y2"},"color":{"field":"g","type":"nominal","scale":{"domain":["a","b"],"range":["#F08070","#C98A10"]},"legend":null}}},
{"data":{"values":[{"x":62,"y":174,"y2":269}]},"mark":{"type":"rule","color":"#E8D0E8","strokeWidth":1},"encoding":{"x":{"field":"x","type":"quantitative","scale":{"domain":[0,520],"range":[0,520]},"axis":null},"y":{"field":"y","type":"quantitative","scale":{"domain":[0,325],"range":[0,325]},"axis":null},"y2":{"field":"y2"}}},
{"data":{"values":[{"v":-1,"a":190.7,"b":246.5},{"v":0,"a":190.7,"b":246.5},{"v":1,"a":190.7,"b":246.5},{"v":2,"a":190.7,"b":246.5}]},"mark":{"type":"rule","color":"#EEEEEE","strokeWidth":0.5},"encoding":{"x":{"field":"v","type":"quantitative","scale":{"domain":[-1.3,2.9],"range":[241.6,279.4]},"axis":null},"y":{"field":"a","type":"quantitative","scale":{"domain":[0,325],"range":[0,325]},"axis":null},"y2":{"field":"b"}}},
{"data":{"values":[{"k":"INTERFERON_GAMMA_RESPONSE","v":2.67},{"k":"IL6_JAK_STAT3_SIGNALING","v":2.41},{"k":"INTERFERON_ALPHA_RESPONSE","v":2.19},{"k":"ALLOGRAFT_REJECTION","v":1.96},{"k":"INFLAMMATORY_RESPONSE","v":1.63},{"k":"APOPTOSIS","v":1.52},{"k":"TNFA_SIGNALING_VIA_NFKB","v":1.19},{"k":"KRAS_SIGNALING_UP","v":1.11},{"k":"OXIDATIVE_PHOSPHORYLATION","v":-1},{"k":"UNFOLDED_PROTEIN_RESPONSE","v":-1.07},{"k":"MYC_TARGETS_V1","v":-1.11}]},"mark":{"type":"bar","color":"#F8766D"},"encoding":{"x":{"field":"v","type":"quantitative","scale":{"domain":[-1.3,2.9],"range":[241.6,279.4],"nice":false},"axis":{"orient":"bottom","offset":-78.5,"values":[-1,0,1,2],"title":"Normalized Enrichment Score","domain":false,"labelFontSize":2.2,"titleFontSize":2.6}},"y":{"field":"k","type":"nominal","scale":{"domain":["INTERFERON_GAMMA_RESPONSE","IL6_JAK_STAT3_SIGNALING","INTERFERON_ALPHA_RESPONSE","ALLOGRAFT_REJECTION","INFLAMMATORY_RESPONSE","APOPTOSIS","TNFA_SIGNALING_VIA_NFKB","KRAS_SIGNALING_UP","OXIDATIVE_PHOSPHORYLATION","UNFOLDED_PROTEIN_RESPONSE","MYC_TARGETS_V1"],"range":[190.7,246.5],"paddingInner":0.1,"paddingOuter":0.05},"axis":{"orient":"left","offset":-241.6,"title":"Pathway","domain":false,"ticks":false,"labelFontSize":2,"labelLimit":60,"titlePadding":7}},"color":{"datum":"TRUE","type":"nominal","scale":{"domain":["TRUE"],"range":["#F8766D"]},"legend":{"orient":"none","legendX":283,"legendY":221,"title":"padj<0.05","titleFontSize":2.4,"titleFontWeight":"normal","titlePadding":0.8,"labelFontSize":2.2,"symbolType":"square","symbolSize":10,"labelOffset":1}}}},
{"data":{"name":"nodesF"},"transform":[{"filter":"test(/^L/,datum.id)"}],"mark":{"type":"line","interpolate":"cardinal-closed","tension":0.2,"color":"#C8A8DC","strokeWidth":2.4,"opacity":0.75},"encoding":{"x":{"field":"x","type":"quantitative","scale":{"domain":[0,690],"range":[290,520]},"axis":null},"y":{"field":"y","type":"quantitative","scale":{"domain":[0,390],"range":[150,280]},"axis":null},"order":{"value":null}}},
{"data":{"name":"nodesF"},"transform":[{"filter":"test(/^R/,datum.id)"}],"mark":{"type":"line","interpolate":"cardinal-closed","tension":0.2,"color":"#C8D898","strokeWidth":1.8,"opacity":0.75},"encoding":{"x":{"field":"x","type":"quantitative","scale":{"domain":[0,690],"range":[290,520]},"axis":null},"y":{"field":"y","type":"quantitative","scale":{"domain":[0,390],"range":[150,280]},"axis":null},"order":{"value":null}}},
{"data":{"name":"edgesF"},"transform":[{"lookup":"s","from":{"data":{"name":"nodesF"},"key":"id","fields":["x","y"]},"as":["x1","y1"]},{"lookup":"t","from":{"data":{"name":"nodesF"},"key":"id","fields":["x","y"]},"as":["x2","y2"]}],"mark":{"type":"rule","opacity":0.8},"encoding":{"x":{"field":"x1","type":"quantitative","scale":{"domain":[0,690],"range":[290,520]},"axis":null},"y":{"field":"y1","type":"quantitative","scale":{"domain":[0,390],"range":[150,280]},"axis":null},"x2":{"field":"x2"},"y2":{"field":"y2"},"size":{"field":"w","type":"quantitative","scale":{"domain":[1,4],"range":[0.5,1.9]},"legend":null},"color":{"field":"s","type":"nominal","scale":{"domain":["L1","L2","L3","L4","L5","L6","L7","L8","L9","L10","R1","R2","R3","R4","R5","R6","R7","R8","R9","R10","I1","I2","I3"],"range":["#5DBB4B","#2E7EC1","#E0282E","#273A8A","#4DA9E0","#B25A2A","#BFA0D8","#F071B3","#F59A1B","#8E44AD","#8E44AD","#3DAB3D","#2E7EC1","#E8D21B","#9ED266","#1FA876","#2B3A8C","#4DA9E0","#A5521E","#BFA0D8","#F071B3","#F59A1B","#C5151C"]},"legend":null}}},
{"data":{"name":"nodesF"},"mark":{"type":"point","filled":false,"size":50,"strokeWidth":1.1},"encoding":{"x":{"field":"px","type":"quantitative","scale":{"domain":[0,690],"range":[290,520]},"axis":null},"y":{"field":"py","type":"quantitative","scale":{"domain":[0,390],"range":[150,280]},"axis":null},"color":{"field":"id","type":"nominal","scale":{"domain":["L1","L2","L3","L4","L5","L6","L7","L8","L9","L10","R1","R2","R3","R4","R5","R6","R7","R8","R9","R10","I1","I2","I3"],"range":["#5DBB4B","#2E7EC1","#E0282E","#273A8A","#4DA9E0","#B25A2A","#BFA0D8","#F071B3","#F59A1B","#8E44AD","#8E44AD","#3DAB3D","#2E7EC1","#E8D21B","#9ED266","#1FA876","#2B3A8C","#4DA9E0","#A5521E","#BFA0D8","#F071B3","#F59A1B","#C5151C"]},"legend":null}}},
{"data":{"name":"nodesF"},"mark":{"type":"square","size":9,"opacity":1},"encoding":{"x":{"field":"x","type":"quantitative","scale":{"domain":[0,690],"range":[290,520]},"axis":null},"y":{"field":"y","type":"quantitative","scale":{"domain":[0,390],"range":[150,280]},"axis":null},"color":{"field":"id","type":"nominal","scale":{"domain":["L1","L2","L3","L4","L5","L6","L7","L8","L9","L10","R1","R2","R3","R4","R5","R6","R7","R8","R9","R10","I1","I2","I3"],"range":["#5DBB4B","#2E7EC1","#E0282E","#273A8A","#4DA9E0","#B25A2A","#BFA0D8","#F071B3","#F59A1B","#8E44AD","#8E44AD","#3DAB3D","#2E7EC1","#E8D21B","#9ED266","#1FA876","#2B3A8C","#4DA9E0","#A5521E","#BFA0D8","#F071B3","#F59A1B","#C5151C"]},"legend":null}}},
{"data":{"name":"nodesF"},"mark":{"type":"text","fontSize":2.6,"color":"#333333"},"encoding":{"x":{"field":"lx","type":"quantitative","scale":{"domain":[0,690],"range":[290,520]},"axis":null},"y":{"field":"ly","type":"quantitative","scale":{"domain":[0,390],"range":[150,280]},"axis":null},"text":{"field":"t"}}},
{"data":{"values":[{"x":15,"y":19,"t":"A)"},{"x":145,"y":20.5,"t":"B)"},{"x":271,"y":21,"t":"C)"},{"x":16,"y":157,"t":"D)"},{"x":195,"y":157,"t":"E)"},{"x":308,"y":157,"t":"F)"},{"x":345,"y":174,"t":"Number of interactions - Good"},{"x":461,"y":174,"t":"Number of interactions - Poor"},{"x":41,"y":166,"t":"1"},{"x":113,"y":165.5,"t":"2"},{"x":257,"y":188,"t":"Hallmark pathways NES from GSEA"}]},"mark":{"type":"text","fontSize":3.2,"color":"#333333"},"encoding":{"x":{"field":"x","type":"quantitative","scale":{"domain":[0,520],"range":[0,520]},"axis":null},"y":{"field":"y","type":"quantitative","scale":{"domain":[0,325],"range":[0,325]},"axis":null},"text":{"field":"t"}}},
{"data":{"values":[{"x":33,"y":303,"t":"A) scRNA data from 25 patients showing batch effects in patient (top left), clusters (top right), sex (bottom left), and treatment cohort (bottom right). B) Removal of batch effects after linked inference of genomic experimental relationship integration."},{"x":33,"y":307.7,"t":"C) Cell annotation from CellAssign after 144 epochs grouped by patient and cluster. D) Differential gene expression comparing \"Good\" engraftment to \"Poor\". E) Pathway analysis demonstrating up regulation of Interferon Gamma in the \"Good\" group"},{"x":33,"y":312.5,"t":"and increased IL6/JAK/STAT3 signalling. F) Representative plots of the cell to cell communication in the individual samples used to compare differences between samples."}]},"mark":{"type":"text","fontSize":3.8,"align":"left","color":"#222222"},"encoding":{"x":{"field":"x","type":"quantitative","scale":{"domain":[0,520],"range":[0,520]},"axis":null},"y":{"field":"y","type":"quantitative","scale":{"domain":[0,325],"range":[0,325]},"axis":null},"text":{"field":"t"}}}
]}
